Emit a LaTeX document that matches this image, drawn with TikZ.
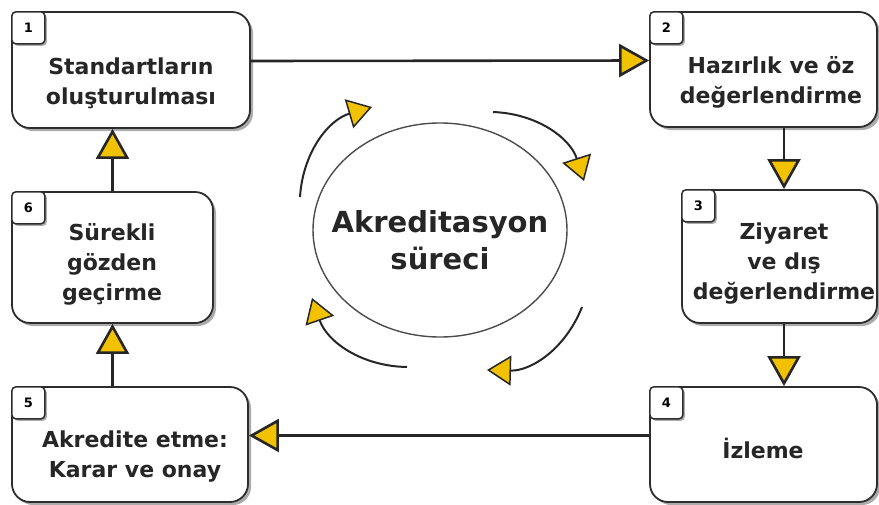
\documentclass[tikz,border=0pt]{standalone}
\usepackage{fontspec}
\setmainfont{DejaVu Sans}
\usetikzlibrary{arrows.meta, shapes.geometric, shadows}
\definecolor{tipyellow}{RGB}{242,194,0}
\definecolor{framegray}{RGB}{45,45,45}

\begin{document}
\begin{tikzpicture}[x=1pt, y=-1pt]
		% Node style
		\tikzset{box style/.style={draw=framegray,
								line width=1.8pt,
								fill=white,
								rounded corners=18pt,
								drop shadow={shadow xshift=3pt, shadow yshift=-3pt,
									fill=black!55, opacity=.6}},
				tag style/.style={draw=framegray,
								line width=1.5pt,
								fill=white,
								rounded corners=4pt,
								anchor=north west,
								minimum width=33pt,
								minimum height=32pt,
								font=\bfseries\fontsize{13}{13}\selectfont,
								drop shadow={shadow xshift=2pt, shadow yshift=-2pt,
									fill=black!55, opacity=.6}},
				text style/.style={align=center,
								text=black!85,
								font=\bfseries\fontsize{22}{30}\selectfont}}
		\useasboundingbox (0, 0) rectangle (879, 504);
		
		% Draw boxes
		\node[box style, minimum width=238pt, minimum height=116pt] at (131, 70)		(S1) {};
		\node[box style, minimum width=227pt, minimum height=115pt] at (763.5, 69.5)	(S2) {};
		\node[box style, minimum width=195pt, minimum height=133pt] at (779.5, 256.5)	(S3) {};
		\node[box style, minimum width=227pt, minimum height=115pt] at (763.5, 444.5)	(S4) {};
		\node[box style, minimum width=236pt, minimum height=115pt] at (130, 444.5)	(S5) {};
		\node[box style, minimum width=201pt, minimum height=131pt] at (112.5, 257.5)	(S6) {};
		
		% Draw number tags
		\node[tag style] at (S1.north west) (N1) {1};
		\node[tag style] at (S2.north west) (N2) {2};
		\node[tag style] at (S3.north west) (N3) {3};
		\node[tag style] at (S4.north west) (N4) {4};
		\node[tag style] at (S5.north west) (N5) {5};
		\node[tag style] at (S6.north west) (N6) {6};
		
		% Draw texts
		\node[text style] at (131, 83)	(T1) {Standartların\\oluşturulması};
		\node[text style] at (771, 82)	(T2) {Hazırlık ve öz\\değerlendirme};
		\node[text style] at (784, 264)	(T3) {Ziyaret\\ve dış\\değerlendirme};
		\node[text style] at (763, 448)	(T4) {İzleme};
		\node[text style] at (135, 457)	(T5) {Akredite etme:\\Karar ve onay};
		\node[text style] at (112, 264)	(T6) {Sürekli\\gözden\\geçirme};
		
		% Draw centre
		\node[draw=black!70, line width=1.4pt, ellipse,
			minimum width=254pt, minimum height=214pt] at (440, 230) (C) {};
		\node[align=center, text=black!85,
			font=\bfseries\fontsize{29}{37}\selectfont] at (440, 240) (T0) {Akreditasyon\\süreci};
		
		% Draw connectors
		\draw[line width=2.6pt,
		draw=black!85,
		>={Triangle[length=30pt, width=33pt, fill=tipyellow]}
		]
		([yshift=9pt]S1.east) 	edge[->] ([yshift=9pt]S2.west)
		(S2.south -| T3) 		edge[->] (S3.north -| T3)
		(S3.south -| T3) 		edge[->] (S4.north -| T3)
		([yshift=9pt]S4.west) 	edge[->] ([yshift=9pt]S5.east)
		(S5.north -| S6) 		edge[->] (S6.south)
		(S6.north) 				edge[->] (S1.south -| S6);
		
		% Draw cycle arrows
		\coordinate (A1) at (300, 197);	\coordinate (B1) at (372, 107);
		\coordinate (A2) at (493, 112);	\coordinate (B2) at (584, 181);
		\coordinate (A3) at (582, 307);	\coordinate (B3) at (487, 370);
		\coordinate (A4) at (407, 367);	\coordinate (B4) at (312, 298);
		\draw[line width=2pt,
		draw=black!85,
		>={Triangle[length=24pt, width=30pt, fill=tipyellow, line width=1.5pt]}
		]
		(A1) edge[->, bend left=35] (B1)
		(A2) edge[->, bend left=35] (B2)
		(A3) edge[->, bend left=35] (B3)
		(A4) edge[->, bend left=35] (B4);
		
	\end{tikzpicture}
\end{document}
